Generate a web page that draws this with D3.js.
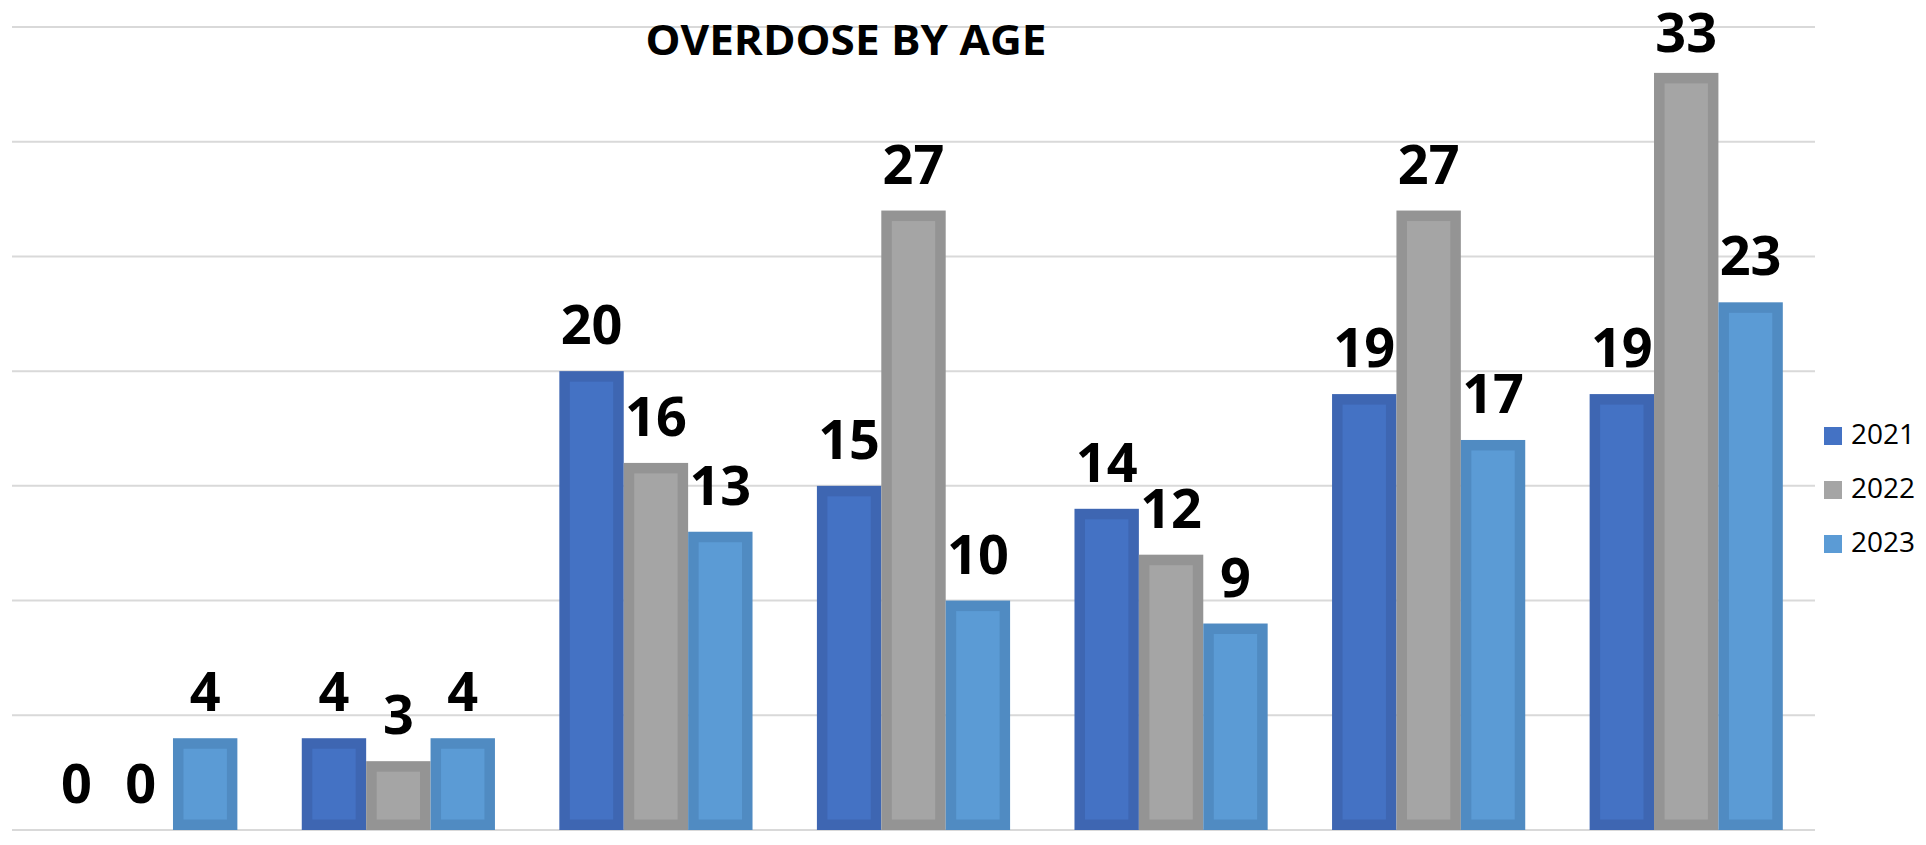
<!DOCTYPE html>
<html>
<head>
<meta charset="utf-8">
<script src="https://cdn.jsdelivr.net/npm/d3@7"></script>
<style>
  body { margin: 0; background: #fff; }
  svg { display: block; }
</style>
</head>
<body>
<div id="chart"></div>
<script>
// age groups (the chart shows no axis labels for them)
var groups = ["g1", "g2", "g3", "g4", "g5", "g6", "g7"];
var years = ["2021", "2022", "2023"];
var v2021 = [0, 4, 20, 15, 14, 19, 19];
var v2022 = [0, 3, 16, 27, 12, 27, 33];
var v2023 = [4, 4, 13, 10, 9, 17, 23];
var yTicks = [0, 5, 10, 15, 20, 25, 30, 35];

var series = [v2021, v2022, v2023];
var fills = ["#4472c4", "#a5a5a5", "#5b9bd5"];
var borders = ["#3e66b2", "#949494", "#508bc2"];

var width = 1926, height = 845;

var svg = d3.select("#chart").append("svg")
  .attr("width", width)
  .attr("height", height);

var x0 = d3.scaleBand()
  .domain(groups)
  .range([12, 1815])
  .paddingInner(0.25)
  .paddingOuter(0.125);

var x1 = d3.scaleBand()
  .domain(years)
  .range([0, x0.bandwidth()]);

var y = d3.scaleLinear()
  .domain([0, 35])
  .range([830, 27]);

// gridlines
svg.append("g").selectAll("line")
  .data(yTicks)
  .enter().append("line")
  .attr("x1", 12)
  .attr("x2", 1815)
  .attr("y1", function(d) { return y(d); })
  .attr("y2", function(d) { return y(d); })
  .attr("stroke", "#d9d9d9")
  .attr("stroke-width", 2);

// flatten data for bars
var data = [];
groups.forEach(function(g, i) {
  years.forEach(function(yr, j) {
    data.push({ group: g, year: yr, value: series[j][i], k: j });
  });
});

var bw = 10.5; // border thickness, drawn inside the bar

var bars = svg.append("g").selectAll("g")
  .data(data.filter(function(d) { return d.value > 0; }))
  .enter().append("g")
  .attr("transform", function(d) { return "translate(" + (x0(d.group) + x1(d.year)) + ",0)"; });

bars.append("rect")
  .attr("x", 0)
  .attr("y", function(d) { return y(d.value); })
  .attr("width", x1.bandwidth())
  .attr("height", function(d) { return y(0) - y(d.value); })
  .attr("fill", function(d) { return borders[d.k]; });

bars.append("rect")
  .attr("x", bw)
  .attr("y", function(d) { return y(d.value) + bw; })
  .attr("width", x1.bandwidth() - 2 * bw)
  .attr("height", function(d) { return Math.max(0, y(0) - y(d.value) - 2 * bw); })
  .attr("fill", function(d) { return fills[d.k]; });

// value labels (kept inside the chart at the top, like the original)
svg.append("g").selectAll("text")
  .data(data)
  .enter().append("text")
  .attr("x", function(d) { return x0(d.group) + x1(d.year) + x1.bandwidth() / 2; })
  .attr("y", function(d) { return Math.max(52, y(d.value) - 27); })
  .attr("text-anchor", "middle")
  .style("font-family", "'Open Sans', sans-serif")
  .style("font-weight", "bold")
  .style("font-size", "54px")
  .attr("fill", "#000")
  .text(function(d) { return d.value; });

// title
svg.append("text")
  .attr("x", 846)
  .attr("y", 55)
  .attr("text-anchor", "middle")
  .style("font-family", "'Open Sans', sans-serif")
  .style("font-weight", "bold")
  .style("font-size", "41px")
  .attr("textLength", 401)
  .attr("lengthAdjust", "spacingAndGlyphs")
  .text("OVERDOSE BY AGE");

// legend
var legend = svg.append("g").selectAll("g")
  .data(years)
  .enter().append("g")
  .attr("transform", function(d, i) { return "translate(1824," + (427 + i * 54) + ")"; });

legend.append("rect")
  .attr("width", 18)
  .attr("height", 18)
  .attr("fill", function(d, i) { return fills[i]; });

legend.append("text")
  .attr("x", 27)
  .attr("y", 17)
  .style("font-family", "'Open Sans', sans-serif")
  .style("font-size", "28px")
  .attr("fill", "#000")
  .text(function(d) { return d; });
</script>
</body>
</html>
